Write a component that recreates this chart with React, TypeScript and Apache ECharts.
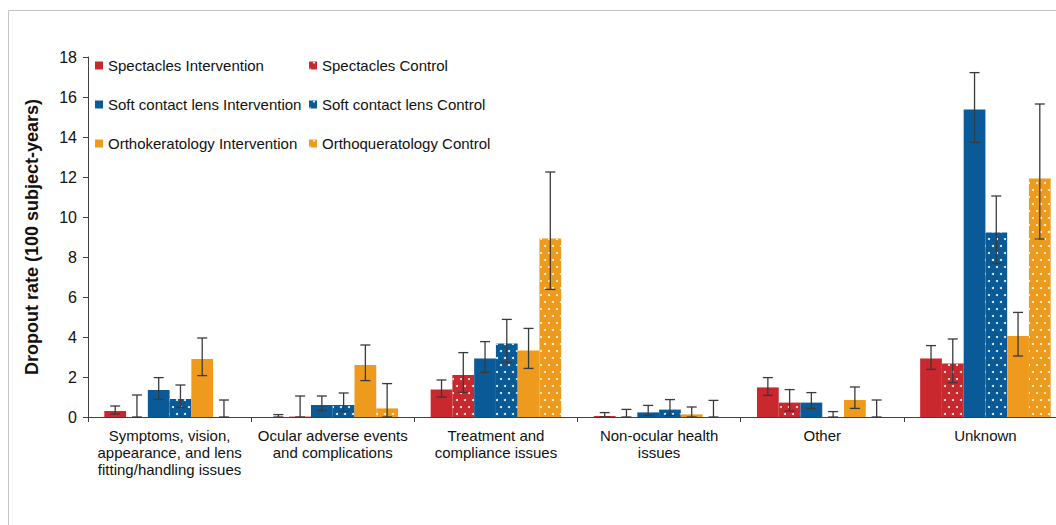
import React, { useEffect, useRef } from "react";
import * as echarts from "echarts";

const categories = [
  "Symptoms, vision,\nappearance, and lens\nfitting/handling issues",
  "Ocular adverse events\nand complications",
  "Treatment and\ncompliance issues",
  "Non-ocular health\nissues",
  "Other",
  "Unknown",
];

const seriesNames = [
  "Spectacles Intervention",
  "Spectacles Control",
  "Soft contact lens Intervention",
  "Soft contact lens Control",
  "Orthokeratology Intervention",
  "Orthoqueratology Control",
];

const seriesColors = ["#C8282E", "#C8282E", "#0B5A98", "#0B5A98", "#EE9A1C", "#EE9A1C"];
const isControl = [false, true, false, true, false, true];

const spectaclesIntervention = [0.3, 0, 1.37, 0.05, 1.48, 2.93];
const spectaclesInterventionLow = [0.15, 0, 1.0, 0, 1.08, 2.38];
const spectaclesInterventionHigh = [0.55, 0.12, 1.85, 0.22, 1.97, 3.57];

const spectaclesControl = [0, 0.02, 2.1, 0, 0.72, 2.68];
const spectaclesControlLow = [0, 0, 1.23, 0, 0.3, 1.72];
const spectaclesControlHigh = [1.1, 1.05, 3.22, 0.38, 1.37, 3.9];

const softIntervention = [1.35, 0.6, 2.92, 0.23, 0.72, 15.38];
const softInterventionLow = [0.88, 0.32, 2.23, 0.08, 0.42, 13.73];
const softInterventionHigh = [1.97, 1.05, 3.77, 0.58, 1.22, 17.22];

const softControl = [0.9, 0.6, 3.68, 0.37, 0, 9.23];
const softControlLow = [0.48, 0.27, 2.73, 0.08, 0, 7.68];
const softControlHigh = [1.6, 1.2, 4.88, 0.87, 0.27, 11.05];

const orthoIntervention = [2.9, 2.6, 3.32, 0.13, 0.85, 4.05];
const orthoInterventionLow = [2.07, 1.82, 2.43, 0, 0.43, 3.05];
const orthoInterventionHigh = [3.95, 3.6, 4.43, 0.5, 1.5, 5.23];

const orthoControl = [0, 0.43, 8.93, 0, 0, 11.93];
const orthoControlLow = [0, 0, 6.38, 0, 0, 8.9];
const orthoControlHigh = [0.85, 1.67, 12.25, 0.83, 0.85, 15.65];

const yTicks = [0, 2, 4, 6, 8, 10, 12, 14, 16, 18];

const values = [spectaclesIntervention, spectaclesControl, softIntervention, softControl, orthoIntervention, orthoControl];
const lows = [spectaclesInterventionLow, spectaclesControlLow, softInterventionLow, softControlLow, orthoInterventionLow, orthoControlLow];
const highs = [spectaclesInterventionHigh, spectaclesControlHigh, softInterventionHigh, softControlHigh, orthoInterventionHigh, orthoControlHigh];

const FONT = "Arial, 'Liberation Sans', sans-serif";
const BAR_CAT_GAP = 0.2;
const CHART_W = 1067;

export default function App() {
  const ref = useRef<HTMLDivElement>(null);
  useEffect(() => {
    if (!ref.current) return;
    const chart = echarts.init(ref.current, undefined, { renderer: "svg" });
    const decal = {
      symbol: "circle",
      color: "#ffffff",
      symbolSize: 1,
      dashArrayX: [[2, 5.5], [0, 3.75, 2, 1.75]],
      dashArrayY: [2, 4.5],
      rotation: 0,
    };
    const barSeries = seriesNames.map((name, i) => ({
      name,
      type: "bar",
      data: values[i],
      barGap: "0%",
      barCategoryGap: BAR_CAT_GAP * 100 + "%",
      itemStyle: {
        color: seriesColors[i],
        decal: isControl[i] ? decal : undefined,
      },
      z: 2,
    }));
    const errData: number[][] = [];
    for (let s = 0; s < 6; s++) {
      for (let c = 0; c < categories.length; c++) {
        errData.push([c, lows[s][c], highs[s][c], s]);
      }
    }
    const errSeries = {
      type: "custom",
      name: "err",
      data: errData,
      encode: { x: 0, y: [1, 2] },
      z: 10,
      renderItem: (_params: any, api: any) => {
        const c = api.value(0);
        const lo = api.value(1);
        const hi = api.value(2);
        const s = api.value(3);
        const band = api.size([1, 0])[0];
        const barW = (band * (1 - BAR_CAT_GAP)) / 6;
        const pLo = api.coord([c, lo]);
        const pHi = api.coord([c, hi]);
        const x = pLo[0] - 3 * barW + (s + 0.5) * barW;
        const cap = 5;
        const style = { stroke: "#3a3a3a", lineWidth: 1.3 };
        return {
          type: "group",
          children: [
            { type: "line", shape: { x1: x, y1: pLo[1], x2: x, y2: pHi[1] }, style },
            { type: "line", shape: { x1: x - cap, y1: pHi[1], x2: x + cap, y2: pHi[1] }, style },
            { type: "line", shape: { x1: x - cap, y1: pLo[1], x2: x + cap, y2: pLo[1] }, style },
          ],
        };
      },
    };
    const legendBase = {
      orient: "vertical",
      itemWidth: 8,
      itemHeight: 8,
      itemGap: 24,
      icon: "rect",
      textStyle: { fontSize: 15, color: "#111", fontFamily: FONT },
      selectedMode: false,
    };
    chart.setOption({
      animation: false,
      textStyle: { fontFamily: FONT },
      graphic: [
        {
          type: "rect",
          shape: { x: 8.5, y: 10.5, width: 1200, height: 700 },
          style: { fill: "none", stroke: "#c4c4c4", lineWidth: 1 },
          z: -10,
          silent: true,
        },
      ],
      legend: [
        { ...legendBase, left: 90, top: 53, data: [seriesNames[0], seriesNames[2], seriesNames[4]] },
        { ...legendBase, left: 304, top: 53, data: [seriesNames[1], seriesNames[3], seriesNames[5]] },
      ],
      grid: { left: 88, top: 57, bottom: 108, width: CHART_W - 88, containLabel: false },
      xAxis: {
        type: "category",
        data: categories,
        axisLine: { lineStyle: { color: "#404040", width: 1 } },
        axisTick: { show: true, length: 5, lineStyle: { color: "#404040" } },
        axisLabel: { interval: 0, fontSize: 15, lineHeight: 17, color: "#111", margin: 10, fontFamily: FONT },
      },
      yAxis: {
        type: "value",
        min: yTicks[0],
        max: yTicks[yTicks.length - 1],
        interval: 2,
        name: "Dropout rate (100 subject-years)",
        nameLocation: "middle",
        nameGap: 47,
        nameTextStyle: { fontSize: 18, fontWeight: "bold", color: "#111", fontFamily: FONT },
        axisLine: { show: true, lineStyle: { color: "#404040", width: 1 } },
        axisTick: { show: true, length: 5, lineStyle: { color: "#404040" } },
        axisLabel: { fontSize: 16, color: "#111", margin: 11, fontFamily: FONT },
        splitLine: { show: false },
      },
      series: [...barSeries, errSeries],
    });
    return () => chart.dispose();
  }, []);
  return (
    <div style={{ position: "fixed", left: 0, top: 0, width: 1056, height: 525, overflow: "hidden", background: "#fff" }}>
      <div ref={ref} style={{ position: "absolute", left: 0, top: 0, width: CHART_W + 20, height: 525 }} />
    </div>
  );
}
